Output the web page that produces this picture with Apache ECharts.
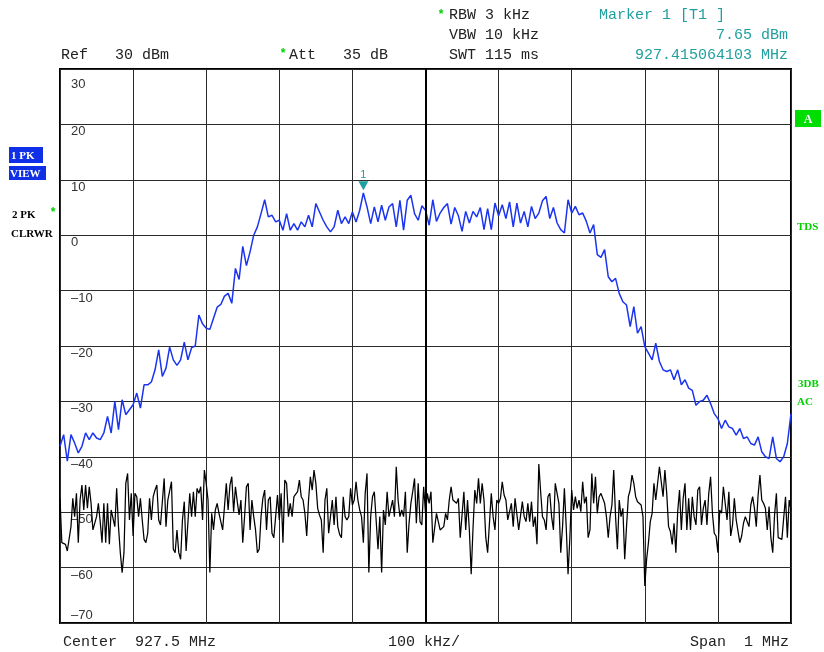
<!DOCTYPE html>
<html>
<head>
<meta charset="utf-8">
<title>Spectrum</title>
<script src="https://cdn.jsdelivr.net/npm/echarts@6/dist/echarts.min.js"></script>
<style>
  html, body { margin: 0; padding: 0; background: #fff; }
  #chart { width: 824px; height: 652px; }
</style>
</head>
<body>
<div id="chart"></div>
<script>
// frequency axis: offset from centre (927.5 MHz), in kHz
var startKHz = -500;
var trace1StepKHz = 5;
var trace2StepKHz = 2.5;
var yTicks = [30, 20, 10, 0, -10, -20, -30, -40, -50, -60, -70];

// trace 1 (PK, VIEW) levels in dBm
var trace1 = [
  -38.1, -36, -40.8, -36, -37.5, -39.3, -38.1, -35.7, -36.9, -35.7,
  -36.6, -36.9, -35.7, -32.7, -35.7, -30, -35.1, -29.7, -32.4, -31.5,
  -30.6, -28.5, -31.2, -27, -27, -26.5, -24.3, -20.7, -25.5, -24,
  -20.2, -22.5, -23.5, -22.5, -19.3, -22.5, -20.3, -20, -14.4, -16,
  -16.8, -17, -15, -13, -12.5, -11, -10.5, -12.3, -6, -8,
  -2, -5.5, -3, 0, 1.5, 3.9, 6.4, 3.3, 3.6, 2.4,
  2.7, 0.9, 3.9, 0.9, 2.1, 0.9, 2.4, 1.5, 3.6, 1.5,
  5.7, 4.2, 2.7, 1.5, 0.6, 1.5, 4.5, 2.1, 3.3, 2.1,
  4.2, 2.4, 4.5, 7.65, 5.1, 2.1, 5.1, 2.4, 5.4, 2.7,
  5.1, 5.7, 1.5, 6.3, 0.9, 6.3, 7.2, 3.9, 2.7, 5.3,
  4.5, 1.8, 6.4, 2.5, 4, 5, 5.7, 2, 5, 3.5,
  0.7, 4.3, 2.2, 4.3, 3.3, 5, 1, 4.8, 1, 5.8,
  3.5, 5.5, 3, 6, 1.5, 5.8, 2.2, 4.3, 1.5, 5.2,
  3, 4, 6.2, 7, 3, 5, 2.2,
  1, 0.4, 6.4, 4, 5.2, 3.7, 4, 2.5, 0.4, 1.9,
  -3.5, -4, -2.6, -7.5, -8.4, -7.8, -10.5, -12, -12.6, -16.5,
  -12.9, -17.7, -16.5, -20.1, -21.3, -22.5, -19.5, -22.8, -24.3, -24.6,
  -24.3, -26.1, -24.3, -27, -26.1, -27.6, -28, -30.7, -30, -29.8,
  -28.9, -30.4, -32.2, -33.1, -34.9, -33.4, -34.6, -34.9, -36.1, -34.9,
  -36.7, -36.4, -37.6, -37.9, -36.4, -39.1, -40, -40.3, -36.4, -40.3,
  -40.9, -40, -37.6, -32.2
];

// trace 2 (PK, CLRWR) levels in dBm
var trace2 = [
  -47.5, -55.5, -55.8, -55.8, -57.0, -57.3, -52.6, -47.5, -50.8, -46.6,
  -55.5, -47.8, -45.1, -49.6, -45.1, -49.3, -45.4, -48.4, -53.2, -53.5,
  -50.8, -48.4, -51.7, -55.5, -48.4, -55.5, -48.4, -55.8, -49.6, -49.9,
  -52.6, -45.7, -52.6, -57.3, -60.9, -57.3, -44.8, -43.0, -51.4, -46.6,
  -54.3, -46.6, -47.2, -50.8, -47.5, -51.4, -54.9, -55.5, -53.8, -47.5,
  -51.4, -47.2, -46.0, -45.1, -51.4, -52.3, -52.3, -43.9, -52.6, -47.8,
  -47.8, -44.5, -56.7, -57.3, -53.2, -57.3, -58.5, -51.4, -48.1, -57.0,
  -57.3, -46.6, -50.8, -46.3, -50.8, -45.7, -46.6, -45.4, -51.4, -42.4,
  -44.8, -47.8, -60.9, -50.2, -53.2, -49.6, -48.4, -50.2, -50.5, -53.2,
  -49.0, -44.8, -49.6, -45.1, -43.6, -49.9, -45.4, -48.1, -50.5, -47.8,
  -55.5, -50.8, -45.4, -44.8, -53.2, -47.8, -50.8, -53.2, -57.3, -56.7,
  -50.8, -47.5, -46.0, -53.2, -47.8, -47.2, -53.8, -54.6, -50.8, -46.9,
  -51.4, -46.6, -55.5, -44.2, -44.8, -50.8, -48.4, -50.8, -47.2, -46.9,
  -46.3, -44.2, -47.2, -47.8, -50.2, -54.3, -47.8, -43.6, -46.0, -42.4,
  -44.8, -49.3, -50.5, -51.4, -57.3, -47.8, -45.7, -53.8, -50.8, -47.8,
  -52.3, -47.2, -52.6, -54.0, -54.6, -47.2, -50.8, -51.4, -50.8, -45.7,
  -48.7, -47.8, -44.5, -47.8, -49.6, -50.8, -55.5, -46.6, -43.0, -60.9,
  -50.8, -47.2, -46.3, -46.0, -56.7, -50.8, -60.9, -49.6, -52.3, -46.3,
  -50.8, -50.5, -47.8, -50.8, -41.8, -47.8, -50.8, -49.6, -50.8, -46.3,
  -57.3, -52.0, -48.4, -46.3, -43.9, -52.0, -44.8, -51.7, -52.3, -45.4,
  -50.2, -46.6, -48.4, -46.3, -55.5, -55.5, -50.2, -50.5, -53.2, -53.5,
  -52.6, -50.2, -51.4, -47.8, -45.4, -47.8, -47.8, -48.4, -47.5, -54.6,
  -54.6, -46.3, -53.2, -47.8, -53.2, -61.2, -52.9, -46.0, -48.4, -43.9,
  -48.4, -44.8, -47.8, -54.6, -57.3, -57.3, -46.6, -50.8, -53.2, -47.8,
  -48.4, -47.5, -44.5, -46.9, -47.8, -51.4, -51.4, -48.4, -52.6, -47.5,
  -47.8, -53.2, -53.2, -48.1, -50.8, -51.7, -48.4, -51.7, -48.1, -52.6,
  -50.8, -55.8, -41.3, -46.3, -50.8, -51.4, -53.2, -47.2, -46.6, -50.8,
  -53.2, -44.8, -46.6, -48.4, -57.3, -52.6, -45.7, -52.6, -61.2, -54.6,
  -46.0, -49.6, -47.2, -49.3, -47.8, -49.9, -44.5, -48.4, -47.2, -54.6,
  -53.2, -43.0, -48.4, -43.6, -50.2, -47.2, -46.6, -46.6, -48.4, -50.8,
  -54.6, -50.8, -48.7, -42.4, -50.8, -56.7, -47.8, -50.8, -49.3, -58.5,
  -52.6, -47.2, -46.0, -43.3, -44.8, -47.2, -48.1, -48.4, -48.7, -50.8,
  -63.3, -58.5, -55.5, -51.7, -50.2, -44.8, -47.8, -47.5, -41.8, -44.5,
  -47.2, -42.4, -46.6, -52.6, -53.5, -55.8, -52.0, -57.3, -49.9, -46.0,
  -53.2, -47.5, -44.8, -53.2, -47.5, -53.2, -47.2, -50.8, -52.3, -46.0,
  -45.4, -52.3, -49.3, -47.8, -52.3, -46.6, -43.6, -50.2, -53.8, -54.3,
  -57.3, -49.6, -50.2, -45.4, -45.7, -51.4, -46.3, -54.3, -52.3, -47.5,
  -51.4, -51.1, -55.5, -54.3, -52.0, -50.8, -51.7, -52.6, -48.7, -47.2,
  -49.3, -52.6, -46.9, -43.3, -47.8, -48.4, -49.3, -53.2, -49.0, -54.6,
  -57.3, -50.5, -46.6, -54.6, -54.3, -54.9, -54.6, -47.2, -54.6, -47.8,
  -49.6
];

// marker 1: 927.415064103 MHz, 7.65 dBm
var marker1 = [-84.935897, 7.65];

var toPairs = function(levels, step) {
  return levels.map(function(v, i) { return [startKHz + i * step, v]; });
};

var mono = '"Liberation Mono", "DejaVu Sans Mono", monospace';
var teal = '#1f9f9f';
var green = '#00d000';

var txt = function(x, y, text, opts) {
  opts = opts || {};
  return {
    type: 'text', x: x, y: y, z: 100,
    style: {
      text: text,
      font: opts.font || ('15px ' + mono),
      fill: opts.fill || '#222',
      textAlign: opts.align || 'left',
      textVerticalAlign: 'middle'
    }
  };
};

var chart = echarts.init(document.getElementById('chart'));

var option = {
  animation: false,
  backgroundColor: '#fff',
  grid: {
    left: 60, right: 33, top: 69, bottom: 29,
    show: true,
    borderColor: '#000',
    borderWidth: 2,
    backgroundColor: 'transparent'
  },
  xAxis: {
    type: 'value',
    min: -500, max: 500, interval: 100,
    axisLine: { show: false },
    axisTick: { show: false },
    axisLabel: { show: false },
    splitLine: { show: true, lineStyle: { color: '#2a2a2a', width: 1 } }
  },
  yAxis: {
    type: 'value',
    min: -70, max: 30, interval: 10,
    axisLine: { show: false },
    axisTick: { show: false },
    splitLine: { show: true, lineStyle: { color: '#2a2a2a', width: 1 } },
    axisLabel: {
      inside: true,
      margin: 11,
      verticalAlign: 'middle',
      fontFamily: '"Liberation Sans", Arial, sans-serif',
      fontSize: 13,
      color: '#333',
      showMinLabel: true,
      showMaxLabel: true,
      formatter: function(v) {
        if (yTicks.indexOf(v) < 0) return '';
        var s = String(v).replace('-', '\u2013');
        if (v === 30) return '{top|' + s + '}';
        if (v === -70) return '{bot|' + s + '}';
        return '{n|' + s + '}';
      },
      rich: {
        top: { fontSize: 13, color: '#333', lineHeight: 15, padding: [30, 0, 0, 0] },
        n: { fontSize: 13, color: '#333', lineHeight: 15, padding: [15, 0, 0, 0] },
        bot: { fontSize: 13, color: '#333', lineHeight: 15, padding: [0, 0, 15, 0] }
      }
    }
  },
  series: [
    {
      name: '2 PK CLRWR',
      type: 'line',
      data: toPairs(trace2, trace2StepKHz),
      symbol: 'none',
      lineStyle: { color: '#000', width: 1.25 },
      z: 3,
      markLine: {
        silent: true,
        symbol: 'none',
        label: { show: false },
        lineStyle: { color: '#000', width: 2, type: 'solid' },
        data: [{ xAxis: 0 }]
      }
    },
    {
      name: '1 PK VIEW',
      type: 'line',
      data: toPairs(trace1, trace1StepKHz),
      symbol: 'none',
      lineStyle: { color: '#1a34f0', width: 1.5 },
      z: 4,
      markPoint: {
        symbol: 'triangle',
        symbolRotate: 180,
        symbolSize: [10, 9],
        symbolOffset: [0, -7],
        itemStyle: { color: teal },
        label: {
          show: true, position: 'top', distance: 1,
          color: teal, fontSize: 11,
          fontFamily: '"Liberation Sans", sans-serif',
          formatter: '1'
        },
        data: [{ coord: marker1 }]
      }
    }
  ],
  graphic: [
    txt(449, 15, 'RBW 3 kHz'),
    txt(449, 35, 'VBW 10 kHz'),
    txt(449, 55, 'SWT 115 ms'),
    txt(61, 55, 'Ref   30 dBm'),
    txt(289, 55, 'Att   35 dB'),
    txt(441, 15, '*', { fill: green, font: 'bold 12px ' + mono, align: 'center' }),
    txt(283, 54, '*', { fill: green, font: 'bold 12px ' + mono, align: 'center' }),
    txt(599, 15, 'Marker 1 [T1 ]', { fill: teal }),
    txt(788, 35, '7.65 dBm', { fill: teal, align: 'right' }),
    txt(788, 55, '927.415064103 MHz', { fill: teal, align: 'right' }),
    txt(63, 642, 'Center  927.5 MHz'),
    txt(388, 642, '100 kHz/'),
    txt(789, 642, 'Span  1 MHz', { align: 'right' }),
    // trace labels, left side
    { type: 'rect', shape: { x: 9, y: 147, width: 34, height: 16 }, style: { fill: '#1030e8' }, z: 100 },
    { type: 'rect', shape: { x: 9, y: 166, width: 37, height: 14 }, style: { fill: '#1030e8' }, z: 100 },
    txt(11, 156, '1 PK', { fill: '#fff', font: 'bold 11px "Liberation Serif", serif' }),
    txt(10, 174, 'VIEW', { fill: '#fff', font: 'bold 11px "Liberation Serif", serif' }),
    txt(12, 215, '2 PK', { fill: '#000', font: 'bold 11px "Liberation Serif", serif' }),
    txt(53, 213, '*', { fill: green, font: 'bold 12px ' + mono, align: 'center' }),
    txt(11, 234, 'CLRWR', { fill: '#000', font: 'bold 11px "Liberation Serif", serif' }),
    // right side status
    { type: 'rect', shape: { x: 795, y: 110, width: 26, height: 17 }, style: { fill: '#00dd00' }, z: 100 },
    txt(808, 120, 'A', { fill: '#fff', font: 'bold 12px "Liberation Serif", serif', align: 'center' }),
    txt(797, 227, 'TDS', { fill: green, font: 'bold 11px "Liberation Serif", serif' }),
    txt(798, 384, '3DB', { fill: green, font: 'bold 11px "Liberation Serif", serif' }),
    txt(797, 402, 'AC', { fill: green, font: 'bold 11px "Liberation Serif", serif' })
  ]
};

chart.setOption(option);
</script>
</body>
</html>
